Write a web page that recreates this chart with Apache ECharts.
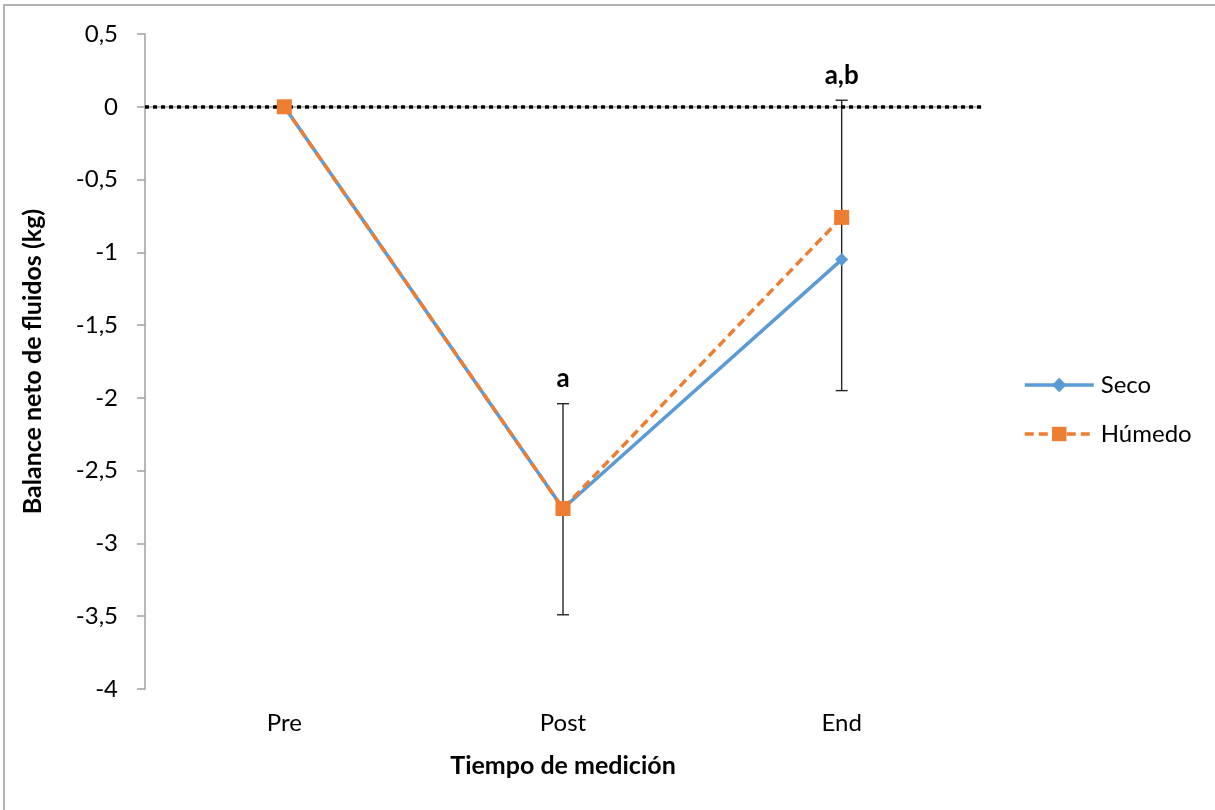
<!DOCTYPE html>
<html>
<head>
<meta charset="utf-8">
<script src="https://cdn.jsdelivr.net/npm/echarts@6/dist/echarts.min.js"></script>
<style>
html,body{margin:0;padding:0;background:#fff;}
#chart{width:1215px;height:810px;}
</style>
</head>
<body>
<div id="chart"></div>
<script>
const categories = ['Pre', 'Post', 'End'];
const seco = [0, -2.76, -1.05];
const humedo = [0, -2.76, -0.76];
const errorUpper = [null, -2.04, 0.045];
const errorLower = [null, -3.49, -1.95];
const sigLabels = ['', 'a', 'a,b'];
const yMin = -4, yMax = 0.5, yStep = 0.5;

const FONT = 'Lato';
const errData = categories.map((c, i) => [i, errorUpper[i], errorLower[i], sigLabels[i]])
  .filter(d => d[1] !== null);

const chart = echarts.init(document.getElementById('chart'));
chart.setOption({
  backgroundColor: '#fff',
  animation: false,
  textStyle: { fontFamily: FONT },
  graphic: [{
    type: 'rect', silent: true, z: -10,
    shape: { x: 4, y: 5, width: 1400, height: 1000 },
    style: { fill: 'none', stroke: '#b3b3b3', lineWidth: 2 }
  }],
  grid: { left: 145, right: 234, top: 34, bottom: 121 },
  legend: {
    orient: 'vertical',
    left: 1023,
    top: 373,
    padding: 0,
    itemWidth: 69,
    itemHeight: 18,
    itemGap: 25,
    lineStyle: { width: 3.5 },
    textStyle: { fontFamily: FONT, fontSize: 24, color: '#000', lineHeight: 20, padding: [0, 0, 0, 2] },
    data: ['Seco', 'Húmedo']
  },
  xAxis: {
    type: 'category',
    data: categories,
    boundaryGap: true,
    axisLine: { lineStyle: { color: '#a0a0a0', width: 1.5 } },
    axisTick: { show: false },
    axisLabel: { fontFamily: FONT, fontSize: 24, color: '#000', margin: 22 },
    name: 'Tiempo de medición',
    nameLocation: 'middle',
    nameGap: 64,
    nameTextStyle: { fontFamily: FONT, fontSize: 25, fontWeight: 'bold', color: '#000' }
  },
  yAxis: {
    type: 'value',
    min: yMin, max: yMax, interval: yStep,
    axisLine: { show: true, lineStyle: { color: '#a0a0a0', width: 1.5 } },
    axisTick: { show: true, length: 8, lineStyle: { color: '#a0a0a0', width: 1.5 } },
    splitLine: { show: false },
    axisLabel: {
      fontFamily: FONT, fontSize: 24, color: '#000', margin: 27,
      formatter: v => String(Math.round(v * 10) / 10).replace('.', ',')
    },
    name: 'Balance neto de fluidos (kg)',
    nameLocation: 'middle',
    nameGap: 100,
    nameTextStyle: { fontFamily: FONT, fontSize: 25, fontWeight: 'bold', color: '#000' }
  },
  series: [
    {
      name: 'errors',
      type: 'custom',
      z: 1,
      silent: true,
      data: errData,
      renderItem: function (params, api) {
        const x = api.value(0);
        const top = api.coord([x, api.value(1)]);
        const bot = api.coord([x, api.value(2)]);
        const hw = 6;
        const st = { stroke: '#262626', lineWidth: 1.4 };
        return {
          type: 'group',
          children: [
            { type: 'line', shape: { x1: top[0], y1: top[1], x2: bot[0], y2: bot[1] }, style: st },
            { type: 'line', shape: { x1: top[0] - hw, y1: top[1], x2: top[0] + hw, y2: top[1] }, style: st },
            { type: 'line', shape: { x1: bot[0] - hw, y1: bot[1], x2: bot[0] + hw, y2: bot[1] }, style: st },
            { type: 'text', x: top[0], y: top[1] - 25,
              style: { text: api.value(3), fontFamily: FONT, fontSize: 26, fontWeight: 'bold', fill: '#000', align: 'center', verticalAlign: 'middle' } }
          ]
        };
      }
    },
    {
      name: 'Seco',
      type: 'line',
      z: 3,
      data: seco,
      symbol: 'diamond',
      symbolSize: 13,
      itemStyle: { color: '#5B9BD5' },
      lineStyle: { color: '#5B9BD5', width: 3.5 },
      markLine: {
        silent: true,
        symbol: 'none',
        label: { show: false },
        lineStyle: { color: '#000', width: 3.5, type: [4, 4] },
        data: [{ yAxis: 0 }],
        z: 2
      }
    },
    {
      name: 'Húmedo',
      type: 'line',
      z: 4,
      data: humedo,
      symbol: 'rect',
      symbolSize: 15,
      itemStyle: { color: '#ED7D31' },
      lineStyle: { color: '#ED7D31', width: 3.5, type: [9, 5] }
    }
  ]
});
</script>
</body>
</html>
